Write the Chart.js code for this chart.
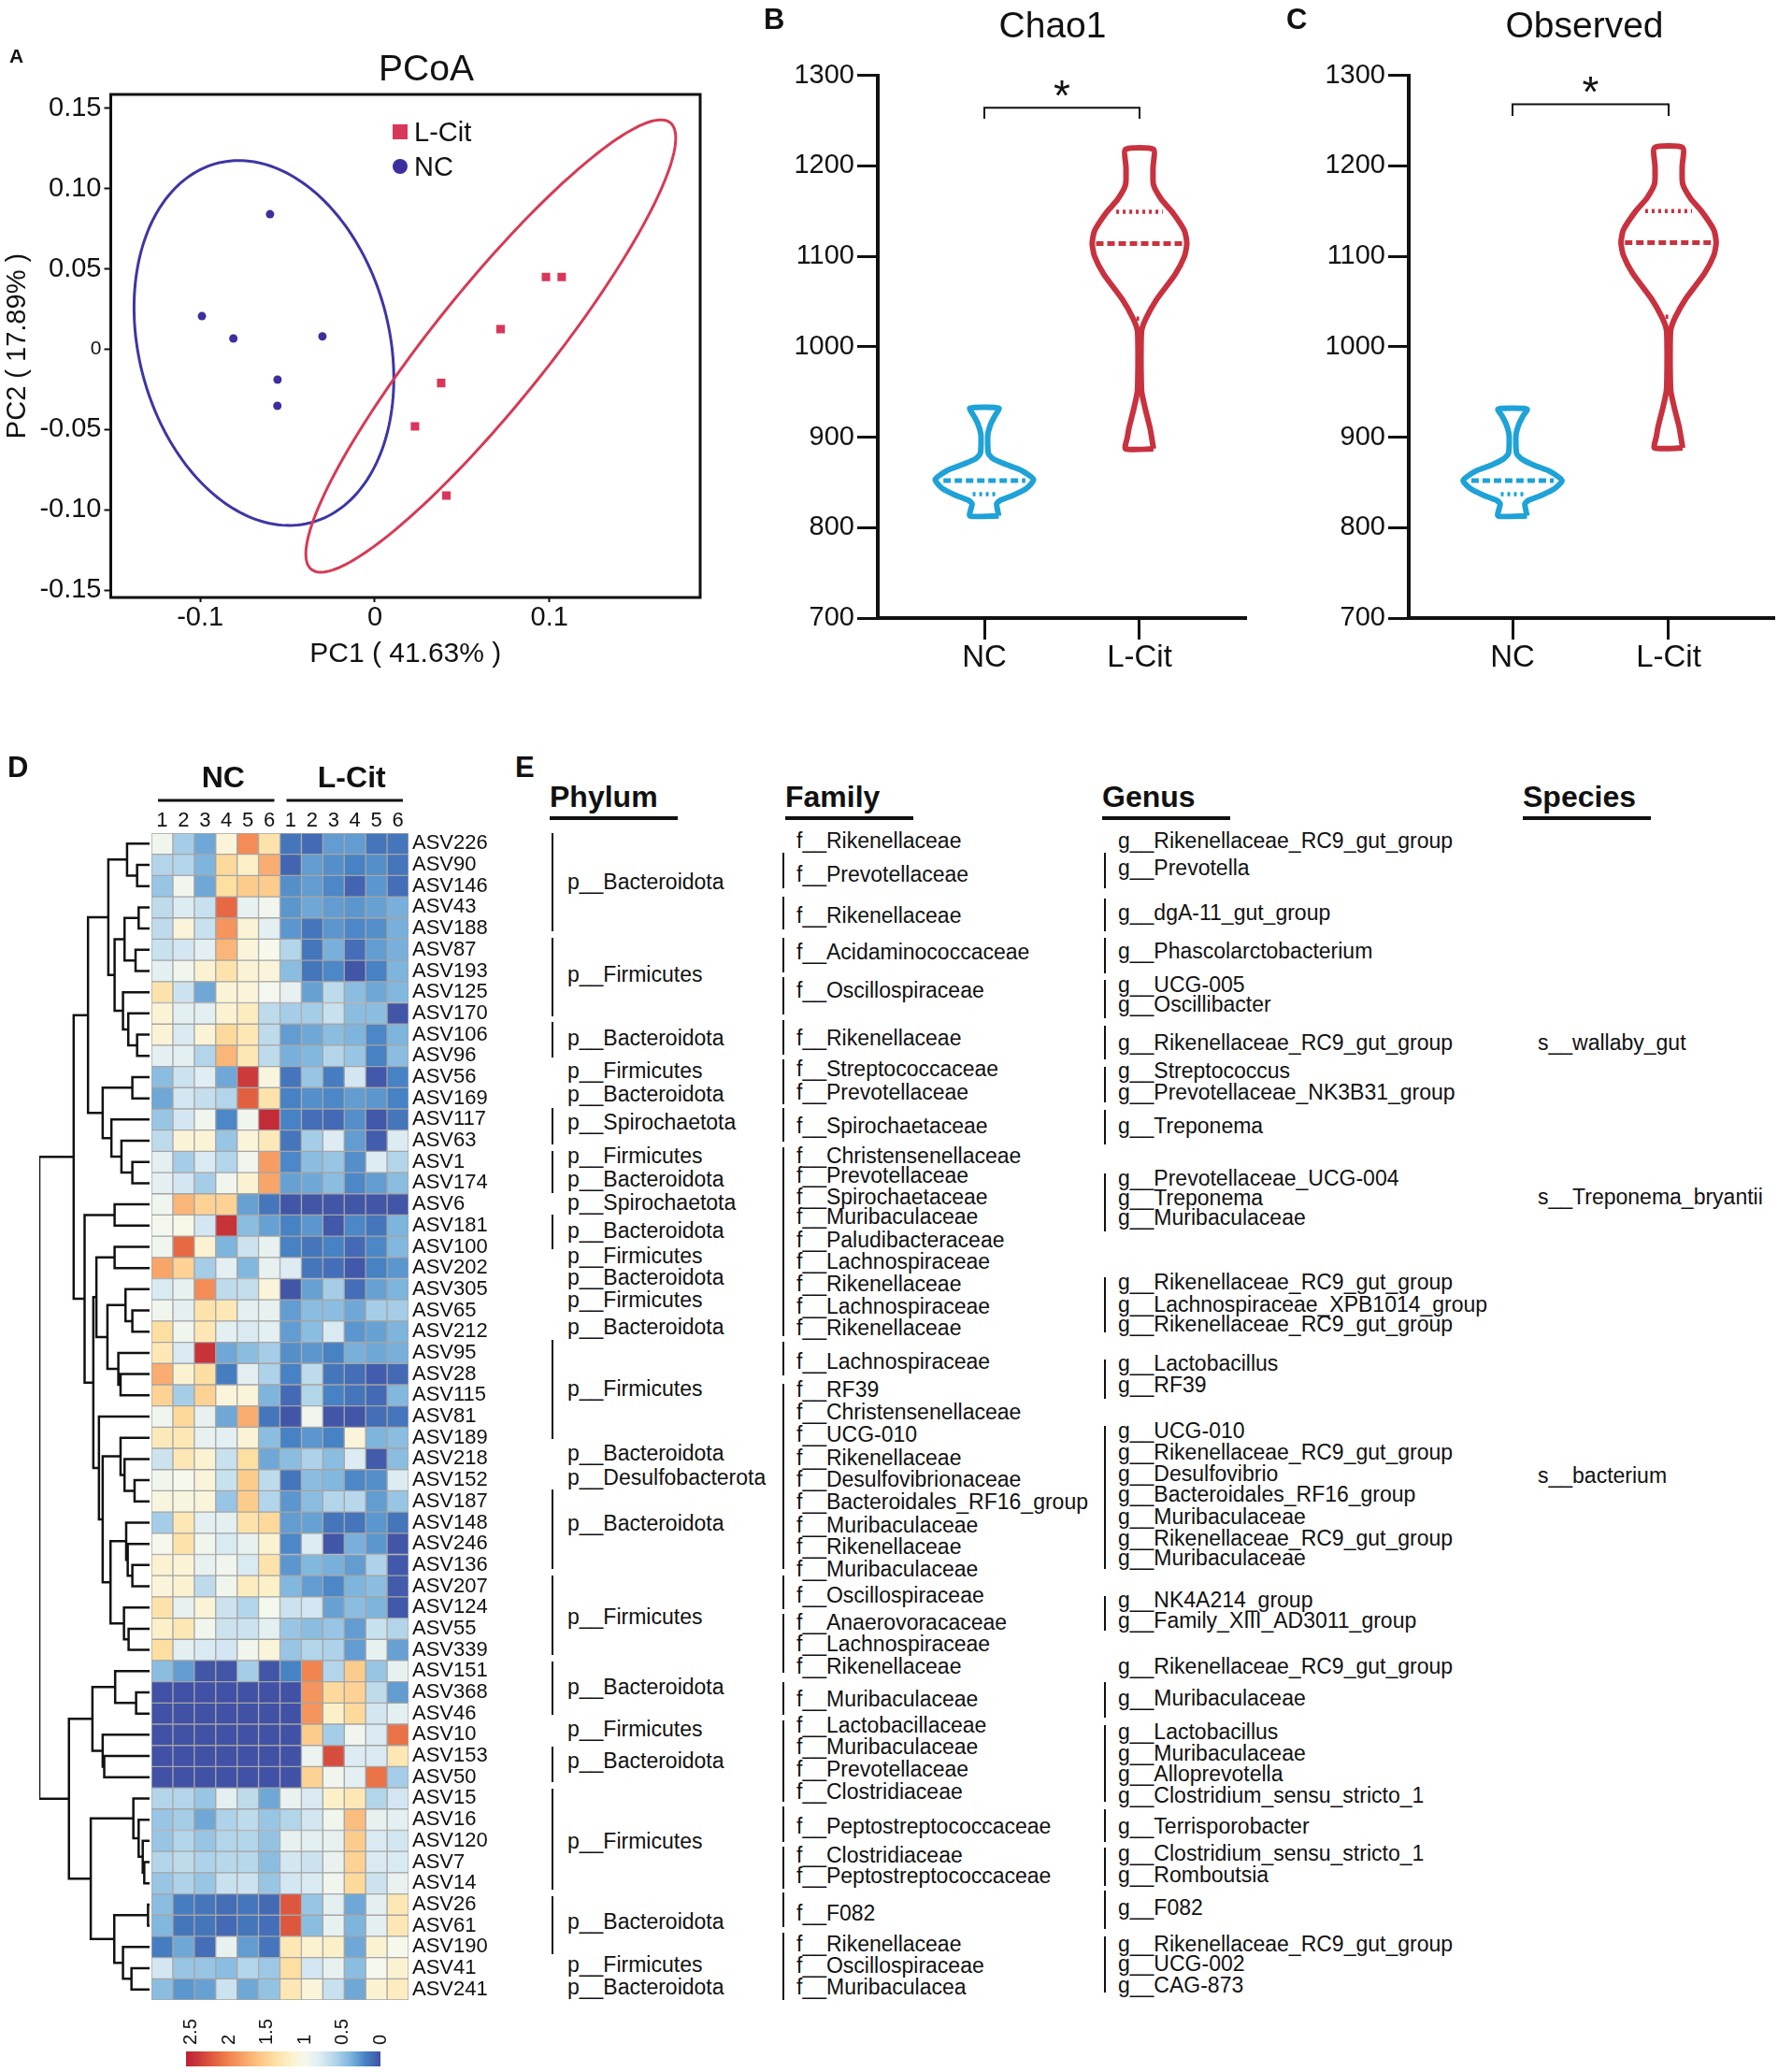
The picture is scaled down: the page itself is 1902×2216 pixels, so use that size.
<!DOCTYPE html>
<html>
<head>
<meta charset="utf-8">
<title>L-Cit vs NC gut microbiota</title>
<script src="https://cdn.jsdelivr.net/npm/chart.js@4.4.1/dist/chart.umd.min.js"></script>
<style>
  html, body { margin: 0; background: #fff; }
  body { position: relative; width: 1902px; height: 2216px; overflow: hidden;
         font-family: 'Liberation Sans', Arial, Helvetica, sans-serif; color: #111; }
  canvas { position: absolute; }
  .t { position: absolute; white-space: nowrap; line-height: 1; transform: translateY(-50%); }
  .c { transform: translate(-50%, -50%); }
  .b { font-weight: bold; }
  .bar { position: absolute; background: #111; }
</style>
</head>
<body>
<canvas id="pcoa" width="770" height="730" style="left:0;top:0"></canvas>
<canvas id="chao" width="560" height="740" style="left:800px;top:0"></canvas>
<canvas id="obs" width="522" height="740" style="left:1380px;top:0"></canvas>
<canvas id="dendro" width="140" height="1430" style="left:30px;top:790px"></canvas>
<canvas id="heat" width="380" height="1430" style="left:150px;top:790px"></canvas>
<script>
// ---------------- A: PCoA ----------------
const pc1Ticks = [-0.1, 0, 0.1];
const pc2Ticks = [-0.15, -0.10, -0.05, 0, 0.05, 0.10, 0.15];
const ncPC1 = [-0.060, -0.099, -0.081, -0.030, -0.0557, -0.0558];
const ncPC2 = [0.084, 0.0206, 0.0067, 0.008, -0.0189, -0.0352];
const citPC1 = [0.098, 0.107, 0.072, 0.038, 0.023, 0.041];
const citPC2 = [0.045, 0.045, 0.0125, -0.021, -0.048, -0.091];
// confidence ellipses: centre x, centre y, semi-major, semi-minor, angle (deg)
const ncEllipse = [-0.0635, 0.0039, 0.115, 0.072, 102];
const citEllipse = [0.0664, 0.002, 0.1728, 0.034, 53.7];

// ---------------- B / C: alpha diversity violins ----------------
const groups = ['NC', 'L-Cit'];
const chaoNcY = [813, 826, 830, 836, 843, 853, 863, 870, 876, 882, 902, 914, 923, 932];
const chaoNcW = [0.093, 0.079, 0.101, 0.189, 0.269, 0.317, 0.242, 0.137, 0.057, 0.026, 0.022, 0.04, 0.066, 0.093];
const chaoCitY = [887, 900, 910, 932, 950, 975, 1000, 1018, 1032, 1052, 1080, 1100, 1114, 1128, 1149, 1163, 1179, 1198, 1218];
const chaoCitW = [0.09, 0.078, 0.068, 0.036, 0.014, 0.01, 0.01, 0.014, 0.044, 0.11, 0.23, 0.29, 0.305, 0.29, 0.21, 0.14, 0.09, 0.087, 0.09];
const chaoMedian = [852, 1114];
const chaoQ1 = [837, 1031];
const chaoQ3 = [null, 1149];
const chaoBracket = [1252, 1264];
const chaoStar = 1285;

const obsNcY = [813, 826, 830, 836, 843, 852, 862, 869, 876, 882, 902, 914, 923, 931];
const obsNcW = [0.093, 0.079, 0.101, 0.189, 0.269, 0.317, 0.242, 0.137, 0.057, 0.026, 0.022, 0.04, 0.066, 0.093];
const obsCitY = [888, 901, 911, 933, 951, 976, 1001, 1019, 1033, 1053, 1081, 1101, 1115, 1129, 1150, 1164, 1180, 1199, 1220];
const obsCitW = [0.09, 0.078, 0.068, 0.036, 0.014, 0.01, 0.01, 0.014, 0.044, 0.11, 0.23, 0.29, 0.305, 0.29, 0.21, 0.14, 0.09, 0.087, 0.09];
const obsMedian = [852, 1115];
const obsQ1 = [837, 1033];
const obsQ3 = [null, 1150];
const obsBracket = [1255, 1268];
const obsStar = 1289;

const medianHalf = [0.264, 0.28];
const q1Half = [0.075, 0.02];
const q3Half = [0, 0.15];

// ---------------- D: heatmap ----------------
const colLabels = ['1', '2', '3', '4', '5', '6', '1', '2', '3', '4', '5', '6'];
const groupLabels = ['NC', 'L-Cit'];
const rowLabels = ['ASV226','ASV90','ASV146','ASV43','ASV188','ASV87','ASV193','ASV125','ASV170','ASV106',
  'ASV96','ASV56','ASV169','ASV117','ASV63','ASV1','ASV174','ASV6','ASV181','ASV100','ASV202','ASV305',
  'ASV65','ASV212','ASV95','ASV28','ASV115','ASV81','ASV189','ASV218','ASV152','ASV187','ASV148','ASV246',
  'ASV136','ASV207','ASV124','ASV55','ASV339','ASV151','ASV368','ASV46','ASV10','ASV153','ASV50','ASV15',
  'ASV16','ASV120','ASV7','ASV14','ASV26','ASV61','ASV190','ASV41','ASV241'];
const hmValues = [
  [0.95,0.55,0.35,1.1,1.95,1.35, 0.15,0.1,0.3,0.3,0.15,0.15],
  [0.6,0.6,0.4,1.45,1.2,1.75, 0.08,0.3,0.25,0.2,0.25,0.15],
  [0.5,0.95,0.35,1.4,1.55,1.55, 0.25,0.3,0.22,0.08,0.28,0.12],
  [0.65,0.8,0.7,2.15,0.88,0.95, 0.28,0.35,0.3,0.28,0.32,0.38],
  [0.65,1.1,0.7,1.9,1.12,0.85, 0.28,0.15,0.28,0.22,0.25,0.38],
  [0.7,0.75,0.85,1.7,1.1,1.0, 0.6,0.15,0.38,0.12,0.3,0.38],
  [0.85,0.95,1.15,1.35,1.12,1.1, 0.45,0.15,0.22,0.02,0.2,0.4],
  [1.35,0.72,0.35,1.12,1.1,0.98, 0.88,0.32,0.65,0.45,0.35,0.42],
  [1.12,0.85,0.85,1.15,1.25,0.65, 0.55,0.55,0.7,0.45,0.45,0.02],
  [1.12,0.78,1.12,1.45,1.3,0.65, 0.3,0.35,0.45,0.4,0.22,0.4],
  [0.85,0.85,0.6,1.7,1.3,0.65, 0.38,0.42,0.6,0.5,0.2,0.45],
  [0.45,0.72,0.82,0.35,2.4,1.08, 0.15,0.5,0.18,0.75,0.03,0.2],
  [0.35,0.75,0.68,0.6,2.2,1.35, 0.2,0.25,0.22,0.3,0.28,0.2],
  [0.5,0.75,0.95,0.22,0.95,2.5, 0.2,0.12,0.1,0.25,0.03,0.15],
  [0.65,1.12,1.12,0.5,1.1,1.28, 0.15,0.55,0.8,0.3,0.05,0.8],
  [0.85,0.55,0.78,0.6,0.95,1.85, 0.22,0.45,0.5,0.25,0.8,0.6],
  [0.85,0.75,0.55,0.95,1.15,1.8, 0.32,0.35,0.45,0.22,0.3,0.45],
  [0.95,1.7,1.5,1.5,0.32,0.15, 0.02,0.02,0.02,0.02,0.02,0.02],
  [0.98,1.02,0.75,2.45,0.45,0.32, 0.2,0.28,0.03,0.22,0.15,0.4],
  [0.95,2.15,1.15,0.4,0.72,0.88, 0.2,0.15,0.2,0.1,0.22,0.42],
  [1.8,1.5,0.55,0.85,0.42,0.88, 0.8,0.15,0.12,0.03,0.2,0.28],
  [0.78,0.88,1.95,0.65,0.68,1.1, 0.02,0.32,0.55,0.12,0.32,0.4],
  [0.95,0.85,1.35,1.3,0.85,0.88, 0.3,0.45,0.45,0.35,0.55,0.55],
  [1.4,0.95,1.3,0.85,0.78,0.85, 0.3,0.45,0.78,0.28,0.32,0.4],
  [1.3,0.78,2.45,0.35,0.45,0.55, 0.25,0.28,0.2,0.38,0.35,0.38],
  [1.75,1.15,1.4,0.18,0.85,0.58, 0.2,0.65,0.15,0.12,0.05,0.1],
  [1.5,0.55,1.5,1.1,1.1,0.4, 0.1,0.6,0.2,0.15,0.1,0.42],
  [0.95,1.45,0.88,0.35,1.75,0.15, 0.02,0.95,0.02,0.02,0.12,0.15],
  [1.28,1.3,0.88,0.85,1.12,0.45, 0.2,0.28,0.2,1.1,0.4,0.45],
  [0.72,1.3,1.15,0.7,1.4,0.35, 0.45,0.58,0.45,0.8,0.04,0.45],
  [0.95,1.0,1.1,0.7,1.55,0.65, 0.15,0.45,0.42,0.22,0.25,0.8],
  [1.08,1.08,1.1,0.5,1.55,0.6, 0.28,0.45,0.6,0.62,0.3,0.5],
  [0.55,1.3,0.85,0.85,1.35,1.45, 0.3,0.32,0.15,0.15,0.28,0.15],
  [1.0,1.35,0.95,0.78,0.88,1.15, 0.22,0.8,0.02,0.38,0.28,0.02],
  [1.15,1.12,0.88,0.95,0.78,1.35, 0.28,0.42,0.38,0.3,0.58,0.03],
  [1.1,1.15,0.65,0.95,1.25,1.2, 0.42,0.3,0.22,0.4,0.45,0.04],
  [1.35,0.88,1.12,0.72,0.6,0.98, 0.72,0.75,0.32,0.45,0.4,0.03],
  [1.2,1.3,0.95,0.72,0.72,0.85, 0.5,0.45,0.5,0.3,0.7,0.6],
  [1.4,0.85,0.78,0.75,0.95,1.1, 0.5,0.6,0.58,0.3,0.88,0.32],
  [0.45,0.3,0.02,0.02,0.55,0.02, 0.2,2.0,0.6,1.55,0.5,0.88],
  [0,0,0,0,0,0, 0,1.9,1.45,1.5,0.65,0.3],
  [0,0,0,0,0,0, 0,1.9,1.2,1.45,0.75,0.85],
  [0,0,0,0,0,0, 0,1.55,0.55,0.95,0.78,2.1],
  [0,0,0,0,0,0, 0,0.92,2.3,0.8,0.78,1.3],
  [0,0,0,0,0,0, 0,1.5,0.95,0.85,2.1,0.55],
  [0.6,0.6,0.5,0.85,0.65,0.35, 0.9,0.78,1.2,1.3,0.6,0.75],
  [0.5,0.55,0.35,0.58,0.65,0.5, 0.6,0.75,0.95,1.65,0.88,0.85],
  [0.5,0.6,0.5,0.6,0.6,0.48, 0.88,0.85,0.88,1.55,0.78,0.75],
  [0.6,0.65,0.58,0.62,0.62,0.45, 0.75,0.72,0.9,1.5,0.78,0.78],
  [0.5,0.58,0.5,0.7,0.72,0.5, 0.75,0.78,0.95,1.45,0.72,0.9],
  [0.45,0.18,0.15,0.12,0.15,0.1, 2.25,0.5,0.85,0.35,0.85,1.3],
  [0.42,0.15,0.15,0.1,0.15,0.12, 2.25,0.45,0.88,0.4,0.85,1.3],
  [0.18,0.35,0.12,0.88,0.3,0.15, 1.3,1.15,1.2,0.35,1.15,1.0],
  [0.75,0.5,0.5,0.45,0.6,0.52, 1.4,0.75,0.88,0.45,0.98,1.15],
  [0.45,0.28,0.32,0.72,0.35,0.48, 1.3,1.1,0.7,0.35,1.15,1.25]
];
// row dendrogram, hclust style: negative = leaf (1-based row), positive = earlier merge
const dendroMerges = [
  [-2,-3,0.113],[-1,1,0.204],[-4,-5,0.099],[-6,-7,0.127],[3,4,0.227],[-10,-11,0.113],[-9,6,0.193],
  [-8,7,0.241],[5,8,0.317],[2,9,0.374],[-12,-13,0.156],[-16,-17,0.156],[-15,12,0.255],[-14,13,0.346],
  [11,14,0.425],[10,15,0.558],[-18,-19,0.317],[-20,-21,0.317],[-23,-24,0.156],[-22,19,0.218],
  [-26,-27,0.263],[-25,21,0.283],[20,22,0.382],[18,23,0.482],[-31,-32,0.136],[-30,25,0.227],
  [-29,26,0.263],[-35,-36,0.156],[-34,28,0.198],[-33,29,0.212],[-38,-39,0.19],[-37,31,0.232],
  [30,32,0.354],[27,33,0.425],[-28,34,0.459],[24,35,0.51],[17,36,0.589],[16,37,0.688],
  [-41,-42,0.122],[-40,39,0.312],[-44,-45,0.411],[-43,41,0.425],[40,42,0.518],[-49,-50,0.048],
  [-48,44,0.062],[-47,45,0.099],[-46,46,0.147],[-51,-52,0.014],[-54,-55,0.164],[-53,49,0.241],
  [48,50,0.32],[47,51,0.533],[43,52,0.731],[38,53,1.0]
];
const keyTicks = [2.5, 2, 1.5, 1, 0.5, 0];
const heatStops = [0, 0.2, 0.4, 0.6, 0.8, 1.0, 1.2, 1.4, 1.6, 1.8, 2.0, 2.2, 2.4, 2.57];
const heatStopColors = ['#4151a5', '#4682c4', '#7db5dd', '#b3d5ea', '#ddecf3', '#f6f8ec', '#fcf0c8',
  '#fddfa2', '#fcc585', '#f8a56a', '#f1844f', '#e2603f', '#cc3a3b', '#bd2035'];

// ---------------- E: taxonomy annotation (positions in heatmap row units) ----------------
const taxHeaders = ['Phylum', 'Family', 'Genus', 'Species'];
const phylumText = ['p__Bacteroidota','p__Firmicutes','p__Bacteroidota','p__Firmicutes','p__Bacteroidota',
  'p__Spirochaetota','p__Firmicutes','p__Bacteroidota','p__Spirochaetota','p__Bacteroidota','p__Firmicutes',
  'p__Bacteroidota','p__Firmicutes','p__Bacteroidota','p__Firmicutes','p__Bacteroidota','p__Desulfobacterota',
  'p__Bacteroidota','p__Firmicutes','p__Bacteroidota','p__Firmicutes','p__Bacteroidota','p__Firmicutes',
  'p__Bacteroidota','p__Firmicutes','p__Bacteroidota'];
const phylumRow = [1.79, 6.15, 9.15, 10.69, 11.8, 13.12, 14.71, 15.81, 16.91, 18.23, 19.42, 20.43, 21.49,
  22.77, 25.68, 28.72, 29.86, 32.02, 36.43, 39.74, 41.72, 43.22, 47.01, 50.79, 52.83, 53.89];
const phylumSpans = [[-0.5,4.13],[4.44,8.14],[8.4,10.08],[12.46,14.18],[14.48,16.47],[17.48,19.11],
  [23.4,28.07],[30.45,34.18],[34.49,38.24],[38.55,41.06],[42.56,44.24],[44.55,49.3],[49.61,52.34]];
const familyText = ['f__Rikenellaceae','f__Prevotellaceae','f__Rikenellaceae','f__Acidaminococcaceae',
  'f__Oscillospiraceae','f__Rikenellaceae','f__Streptococcaceae','f__Prevotellaceae','f__Spirochaetaceae',
  'f__Christensenellaceae','f__Prevotellaceae','f__Spirochaetaceae','f__Muribaculaceae','f__Paludibacteraceae',
  'f__Lachnospiraceae','f__Rikenellaceae','f__Lachnospiraceae','f__Rikenellaceae','f__Lachnospiraceae',
  'f__RF39','f__Christensenellaceae','f__UCG-010','f__Rikenellaceae','f__Desulfovibrionaceae',
  'f__Bacteroidales_RF16_group','f__Muribaculaceae','f__Rikenellaceae','f__Muribaculaceae',
  'f__Oscillospiraceae','f__Anaerovoracaceae','f__Lachnospiraceae','f__Rikenellaceae','f__Muribaculaceae',
  'f__Lactobacillaceae','f__Muribaculaceae','f__Prevotellaceae','f__Clostridiaceae',
  'f__Peptostreptococcaceae','f__Clostridiaceae','f__Peptostreptococcaceae','f__F082','f__Rikenellaceae',
  'f__Oscillospiraceae','f__Muribaculacea'];
const familyRow = [-0.15, 1.44, 3.38, 5.11, 6.92, 9.15, 10.61, 11.71, 13.3, 14.71, 15.63, 16.64, 17.57,
  18.67, 19.68, 20.74, 21.8, 22.8, 24.4, 25.72, 26.78, 27.83, 28.94, 29.95, 31.01, 32.11, 33.12, 34.18,
  35.42, 36.69, 37.71, 38.76, 40.31, 41.54, 42.55, 43.61, 44.67, 46.3, 47.67, 48.64, 50.41, 51.87, 52.88, 53.89];
const familySpans = [[0.42,2.1],[2.5,4.04],[4.43,6.07],[6.29,8.05],[8.32,9.96],[10.17,12.28],[12.46,14.05],
  [14.3,23.2],[23.47,25.06],[25.46,34.18],[34.49,36.08],[36.3,39.07],[39.52,41.06],[41.32,45.15],
  [45.38,47.05],[47.27,49.25],[49.44,51.07],[51.33,54.5]];
const genusText = ['g__Rikenellaceae_RC9_gut_group','g__Prevotella','g__dgA-11_gut_group',
  'g__Phascolarctobacterium','g__UCG-005','g__Oscillibacter','g__Rikenellaceae_RC9_gut_group',
  'g__Streptococcus','g__Prevotellaceae_NK3B31_group','g__Treponema','g__Prevotellaceae_UCG-004',
  'g__Treponema','g__Muribaculaceae','g__Rikenellaceae_RC9_gut_group','g__Lachnospiraceae_XPB1014_group',
  'g__Rikenellaceae_RC9_gut_group','g__Lactobacillus','g__RF39','g__UCG-010','g__Rikenellaceae_RC9_gut_group',
  'g__Desulfovibrio','g__Bacteroidales_RF16_group','g__Muribaculaceae','g__Rikenellaceae_RC9_gut_group',
  'g__Muribaculaceae','g__NK4A214_group','g__Family_XIII_AD3011_group','g__Rikenellaceae_RC9_gut_group',
  'g__Muribaculaceae','g__Lactobacillus','g__Muribaculaceae','g__Alloprevotella',
  'g__Clostridium_sensu_stricto_1','g__Terrisporobacter','g__Clostridium_sensu_stricto_1','g__Romboutsia',
  'g__F082','g__Rikenellaceae_RC9_gut_group','g__UCG-002','g__CAG-873'];
const genusRow = [-0.15, 1.13, 3.25, 5.05, 6.64, 7.56, 9.37, 10.69, 11.71, 13.3, 15.76, 16.7, 17.6, 20.66,
  21.7, 22.64, 24.49, 25.5, 27.66, 28.68, 29.69, 30.66, 31.72, 32.73, 33.66, 35.63, 36.6, 38.76, 40.26,
  41.85, 42.86, 43.83, 44.85, 46.3, 47.58, 48.6, 50.14, 51.87, 52.79, 53.8];
const genusSpans = [[0.42,2.1],[2.58,4.13],[4.43,6.11],[6.42,8.23],[8.58,10.17],[10.52,12.2],[12.55,14.18],
  [15.54,18.28],[20.43,23.03],[24.3,26.17],[27.44,34.18],[35.45,37.09],[39.52,41.2],[41.54,45.15],
  [45.5,47.05],[47.32,49.12],[49.35,51.16],[51.51,54.15]];
const speciesText = ['s__wallaby_gut', 's__Treponema_bryantii', 's__bacterium'];
const speciesRow = [9.37, 16.64, 29.78];

// ======================================================================
const FONT = "'Liberation Sans', Arial, Helvetica, sans-serif";
Chart.defaults.font.family = FONT;
Chart.defaults.color = '#111';
const RED = '#d8375a', BLUE = '#3b2f9e', RED_LINE = '#d63a55', BLUE_LINE = '#3c36a5';
const CYAN = '#1ea2d7', CRIM = '#c8323f';
const noUi = { legend: { display: false }, tooltip: { enabled: false } };

function label(text, x, y, size, opts) {
  opts = opts || {};
  const d = document.createElement('div');
  d.className = 't' + (opts.center ? ' c' : '') + (opts.bold ? ' b' : '');
  d.textContent = text;
  d.style.left = x + 'px'; d.style.top = y + 'px'; d.style.fontSize = size + 'px';
  document.body.appendChild(d);
  return d;
}
function box(x, y, w, h, bg, round) {
  const d = document.createElement('div');
  d.className = 'bar';
  Object.assign(d.style, { left: x + 'px', top: y + 'px', width: w + 'px', height: h + 'px', background: bg });
  if (round) d.style.borderRadius = '50%';
  document.body.appendChild(d);
}

// ---------- A ----------
const framePlugin = {
  id: 'frame',
  afterDraw(chart) {
    const { ctx, chartArea: a } = chart;
    ctx.save(); ctx.lineWidth = 3; ctx.strokeStyle = '#111';
    ctx.strokeRect(a.left, a.top, a.right - a.left, a.bottom - a.top);
    ctx.restore();
  }
};
const ellipsePlugin = {
  id: 'ellipses',
  beforeDatasetsDraw(chart) {
    const { ctx, scales: { x, y } } = chart;
    [[ncEllipse, BLUE_LINE], [citEllipse, RED_LINE]].forEach(([e, col]) => {
      const [cx, cy, a, b, deg] = e;
      const th = deg * Math.PI / 180;
      ctx.save(); ctx.beginPath();
      for (let k = 0; k <= 200; k++) {
        const t = k / 200 * 2 * Math.PI;
        const dx = a * Math.cos(t) * Math.cos(th) - b * Math.sin(t) * Math.sin(th);
        const dy = a * Math.cos(t) * Math.sin(th) + b * Math.sin(t) * Math.cos(th);
        const px = x.getPixelForValue(cx + dx), py = y.getPixelForValue(cy + dy);
        if (k) ctx.lineTo(px, py); else ctx.moveTo(px, py);
      }
      ctx.closePath(); ctx.lineWidth = 3; ctx.strokeStyle = col; ctx.stroke(); ctx.restore();
    });
  }
};
new Chart(document.getElementById('pcoa'), {
  type: 'scatter',
  data: { datasets: [
    { label: 'L-Cit', data: citPC1.map((x, i) => ({ x, y: citPC2[i] })), pointStyle: 'rect',
      pointRadius: 6.4, backgroundColor: RED, borderWidth: 0 },
    { label: 'NC', data: ncPC1.map((x, i) => ({ x, y: ncPC2[i] })), pointStyle: 'circle',
      pointRadius: 4.5, backgroundColor: BLUE, borderWidth: 0 }
  ] },
  options: {
    responsive: false, animation: false, plugins: noUi,
    layout: { padding: { top: 101, right: 21, left: 0, bottom: 0 } },
    scales: {
      x: { type: 'linear', min: -0.1512, max: 0.1863,
        afterFit: s => { s.height = 91; },
        afterBuildTicks: s => { s.ticks = pc1Ticks.map(v => ({ value: v })); },
        ticks: { font: { size: 29 }, padding: 0, callback: v => (v === 0 ? '0' : v.toFixed(1)) },
        grid: { drawOnChartArea: false, tickLength: 5, tickWidth: 2, color: '#111' },
        border: { display: false },
        title: { display: true, text: 'PC1 ( 41.63% )', font: { size: 30 }, padding: { top: 0, bottom: 12 } } },
      y: { type: 'linear', min: -0.1544, max: 0.1585,
        afterFit: s => { s.width = 118.5; },
        afterBuildTicks: s => { s.ticks = pc2Ticks.map(v => ({ value: v })); },
        ticks: { padding: 3, font: c => ({ size: c.tick && c.tick.value === 0 ? 21 : 29 }),
          callback: v => (v === 0 ? '0' : v.toFixed(2)) },
        grid: { drawOnChartArea: false, tickLength: 7, tickWidth: 2, color: '#111' },
        border: { display: false },
        title: { display: true, text: 'PC2 ( 17.89% )', font: { size: 29 }, padding: { top: 2, bottom: 0 } } }
    }
  },
  plugins: [ellipsePlugin, framePlugin]
});

// ---------- B / C ----------
function outline(c, ys, ws) {
  const right = ys.map((y, i) => ({ x: c + ws[i], y }));
  const left = ys.map((y, i) => ({ x: c - ws[i], y })).reverse();
  return right.concat(left, [right[0]]);
}
function hline(c, v, w) { return [{ x: c - w, y: v }, { x: c + w, y: v }]; }
const starPlugin = {
  id: 'star',
  afterDatasetsDraw(chart, args, opts) {
    const { ctx, scales: { x, y } } = chart;
    ctx.save(); ctx.fillStyle = '#111'; ctx.font = '46px ' + FONT;
    ctx.textAlign = 'center'; ctx.textBaseline = 'middle';
    ctx.fillText('*', x.getPixelForValue(1.5), y.getPixelForValue(opts.value) + 10);
    ctx.restore();
  }
};
function violinChart(id, o) {
  const cols = [CYAN, CRIM];
  const ds = [];
  [[o.ncY, o.ncW], [o.citY, o.citW]].forEach(([ys, ws], g) => {
    ds.push({ data: outline(g + 1, ys, ws), borderColor: cols[g], borderWidth: 6, tension: 0.2 });
    ds.push({ data: hline(g + 1, o.med[g], medianHalf[g]), borderColor: cols[g], borderWidth: 5, borderDash: [8, 4] });
    ds.push({ data: hline(g + 1, o.q1[g], q1Half[g]), borderColor: cols[g], borderWidth: 4.5, borderDash: [3, 4] });
    if (o.q3[g] !== null) ds.push({ data: hline(g + 1, o.q3[g], q3Half[g]), borderColor: cols[g], borderWidth: 4.5, borderDash: [3, 4] });
  });
  ds.push({ data: [{ x: 1, y: o.bracket[0] }, { x: 1, y: o.bracket[1] }, { x: 2, y: o.bracket[1] }, { x: 2, y: o.bracket[0] }],
    borderColor: '#111', borderWidth: 2 });
  ds.forEach(d => Object.assign(d, { showLine: true, pointRadius: 0, fill: false }));
  return new Chart(document.getElementById(id), {
    type: 'scatter',
    data: { datasets: ds },
    options: {
      responsive: false, animation: false,
      plugins: Object.assign({ star: { value: o.star } }, noUi),
      layout: { padding: { top: 80.5, right: o.padRight, left: 0, bottom: 0 } },
      scales: {
        x: { type: 'linear', min: o.xMin, max: o.xMax,
          afterFit: s => { s.height = 79; },
          afterBuildTicks: s => { s.ticks = [{ value: 1 }, { value: 2 }]; },
          ticks: { font: { size: 33 }, padding: 0, callback: v => groups[v - 1] },
          grid: { drawOnChartArea: false, tickLength: 23, tickWidth: 3, color: '#111' },
          border: { display: true, width: 4, color: '#111' } },
        y: { type: 'linear', min: 700, max: 1300,
          afterFit: s => { s.width = o.axisW; },
          ticks: { stepSize: 100, font: { size: 29 }, padding: 3, callback: v => String(v) },
          grid: { drawOnChartArea: false, tickLength: 22, tickWidth: 3, color: '#111' },
          border: { display: true, width: 4, color: '#111' } }
      }
    },
    plugins: [starPlugin]
  });
}
violinChart('chao', { ncY: chaoNcY, ncW: chaoNcW, citY: chaoCitY, citW: chaoCitW, med: chaoMedian, q1: chaoQ1,
  q3: chaoQ3, bracket: chaoBracket, star: chaoStar, xMin: 0.313, xMax: 2.687, axisW: 139, padRight: 27 });
violinChart('obs', { ncY: obsNcY, ncW: obsNcW, citY: obsCitY, citW: obsCitW, med: obsMedian, q1: obsQ1,
  q3: obsQ3, bracket: obsBracket, star: obsStar, xMin: 0.335, xMax: 2.677, axisW: 127, padRight: 4 });

// ---------- D ----------
function hexToRgb(h) { return [1, 3, 5].map(i => parseInt(h.slice(i, i + 2), 16)); }
function heatColor(v) {
  const s = heatStops, c = heatStopColors;
  if (v <= s[0]) return c[0];
  for (let i = 1; i < s.length; i++) {
    if (v <= s[i]) {
      const t = (v - s[i - 1]) / (s[i] - s[i - 1]);
      const a = hexToRgb(c[i - 1]), b = hexToRgb(c[i]);
      return 'rgb(' + a.map((q, k) => Math.round(q + t * (b[k] - q))).join(',') + ')';
    }
  }
  return c[c.length - 1];
}
const heatDecor = {
  id: 'heatDecor',
  afterDraw(chart) {
    const { ctx, scales: { x } } = chart;
    ctx.save();
    ctx.fillStyle = '#111'; ctx.strokeStyle = '#111';
    groupLabels.forEach((g, k) => {
      const x0 = x.getPixelForValue(k * 6), x1 = x.getPixelForValue(k * 6 + 6);
      ctx.font = 'bold 32px ' + FONT;
      ctx.textAlign = 'center'; ctx.textBaseline = 'middle';
      ctx.fillText(g, (x0 + x1) / 2 + 8, 43);
      ctx.lineWidth = 3;
      ctx.beginPath(); ctx.moveTo(x0 + 7, 66); ctx.lineTo(x1 - 6, 66); ctx.stroke();
    });
    // colour key
    const kL = 49, kR = 257, kMax = heatStops[heatStops.length - 1];
    const kx = v => kR - v / kMax * (kR - kL);
    const grad = ctx.createLinearGradient(kx(0), 0, kx(kMax), 0);
    heatStops.forEach((s, i) => grad.addColorStop(s / kMax, heatStopColors[i]));
    ctx.fillStyle = grad;
    ctx.fillRect(kL, 1404, kR - kL, 16);
    ctx.fillStyle = '#111'; ctx.font = '20px ' + FONT;
    ctx.textAlign = 'left'; ctx.textBaseline = 'middle';
    keyTicks.forEach(v => {
      ctx.save(); ctx.translate(kx(v), 1397); ctx.rotate(-Math.PI / 2);
      ctx.fillText(String(v), 0, 0); ctx.restore();
    });
    ctx.restore();
  }
};
const heat = new Chart(document.getElementById('heat'), {
  type: 'bar',
  data: {
    labels: rowLabels,
    datasets: colLabels.map((lab, j) => ({
      label: groupLabels[j < 6 ? 0 : 1] + ' ' + lab,
      data: rowLabels.map(() => 1),
      backgroundColor: hmValues.map(r => heatColor(r[j])),
      borderColor: '#a5a5a5', borderWidth: 1, borderSkipped: false,
      barPercentage: 1, categoryPercentage: 1
    }))
  },
  options: {
    indexAxis: 'y', responsive: false, animation: false, plugins: noUi,
    layout: { padding: { left: 12, top: 0, right: 0, bottom: 81 } },
    scales: {
      x: { type: 'linear', position: 'top', stacked: true, min: 0, max: 12,
        afterFit: s => { s.height = 101; },
        afterBuildTicks: s => { s.ticks = colLabels.map((_, j) => ({ value: j + 0.5 })); },
        ticks: { autoSkip: false, maxRotation: 0, padding: 0, font: { size: 22 }, callback: (v, i) => colLabels[i] },
        grid: { display: false, drawTicks: false }, border: { display: false } },
      y: { position: 'right', stacked: true,
        afterFit: s => { s.width = 93; },
        ticks: { autoSkip: false, padding: 4, font: { size: 22 } },
        grid: { display: false, drawTicks: false }, border: { display: false } }
    }
  },
  plugins: [heatDecor]
});

// dendrogram segments from the merge table
const nodePos = [], nodeH = [], dendroPts = [];
const nodeInfo = k => (k < 0 ? { p: -k - 1, h: 0 } : { p: nodePos[k - 1], h: nodeH[k - 1] });
dendroMerges.forEach(([a, b, h]) => {
  const A = nodeInfo(a), B = nodeInfo(b);
  dendroPts.push({ x: A.h, y: A.p }, { x: h, y: A.p }, { x: h, y: B.p }, { x: B.h, y: B.p }, { x: null, y: null });
  nodePos.push((A.p + B.p) / 2); nodeH.push(h);
});
new Chart(document.getElementById('dendro'), {
  type: 'scatter',
  data: { datasets: [{ data: dendroPts, showLine: true, spanGaps: false, pointRadius: 0,
    borderColor: '#111', borderWidth: 2.5 }] },
  options: {
    responsive: false, animation: false, plugins: noUi,
    layout: { padding: { left: 12, right: 10, top: 101, bottom: 81 } },
    scales: {
      x: { type: 'linear', min: 0, max: 1, reverse: true, display: false },
      y: { type: 'linear', min: -0.5, max: rowLabels.length - 0.5, reverse: true, display: false }
    }
  }
});

// ---------- E (rows mapped through the heatmap's y scale) ----------
const rowY = r => 790 + heat.scales.y.getPixelForValue(r);
const taxCols = [
  { head: 588, bar: 590, x: 607, text: phylumText, rows: phylumRow, spans: phylumSpans },
  { head: 840, bar: 837, x: 852, text: familyText, rows: familyRow, spans: familySpans },
  { head: 1179, bar: 1181, x: 1196, text: genusText, rows: genusRow, spans: genusSpans },
  { head: 1629, bar: null, x: 1645, text: speciesText, rows: speciesRow, spans: [] }
];
taxCols.forEach((c, k) => {
  label(taxHeaders[k], c.head, 852, 32, { bold: true });
  box(c.head, 873, 137, 4, '#111');
  c.text.forEach((t, i) => label(t, c.x, rowY(c.rows[i]), 23));
  c.spans.forEach(([s0, s1]) => box(c.bar, rowY(s0), 2, rowY(s1) - rowY(s0), '#111'));
});

// ---------- titles, panel letters, legend ----------
label('A', 10, 59, 21, { bold: true });
label('PCoA', 456, 72, 39, { center: true });
label('B', 817, 20, 31, { bold: true });
label('Chao1', 1126, 26, 39, { center: true });
label('C', 1376, 20, 31, { bold: true });
label('Observed', 1695, 26, 39, { center: true });
label('D', 8, 820, 31, { bold: true });
label('E', 551, 820, 31, { bold: true });
box(420, 133, 16, 16, RED);
label('L-Cit', 443, 141, 29);
box(420, 170, 16, 16, BLUE, true);
label('NC', 443, 178, 29);
</script>
</body>
</html>
